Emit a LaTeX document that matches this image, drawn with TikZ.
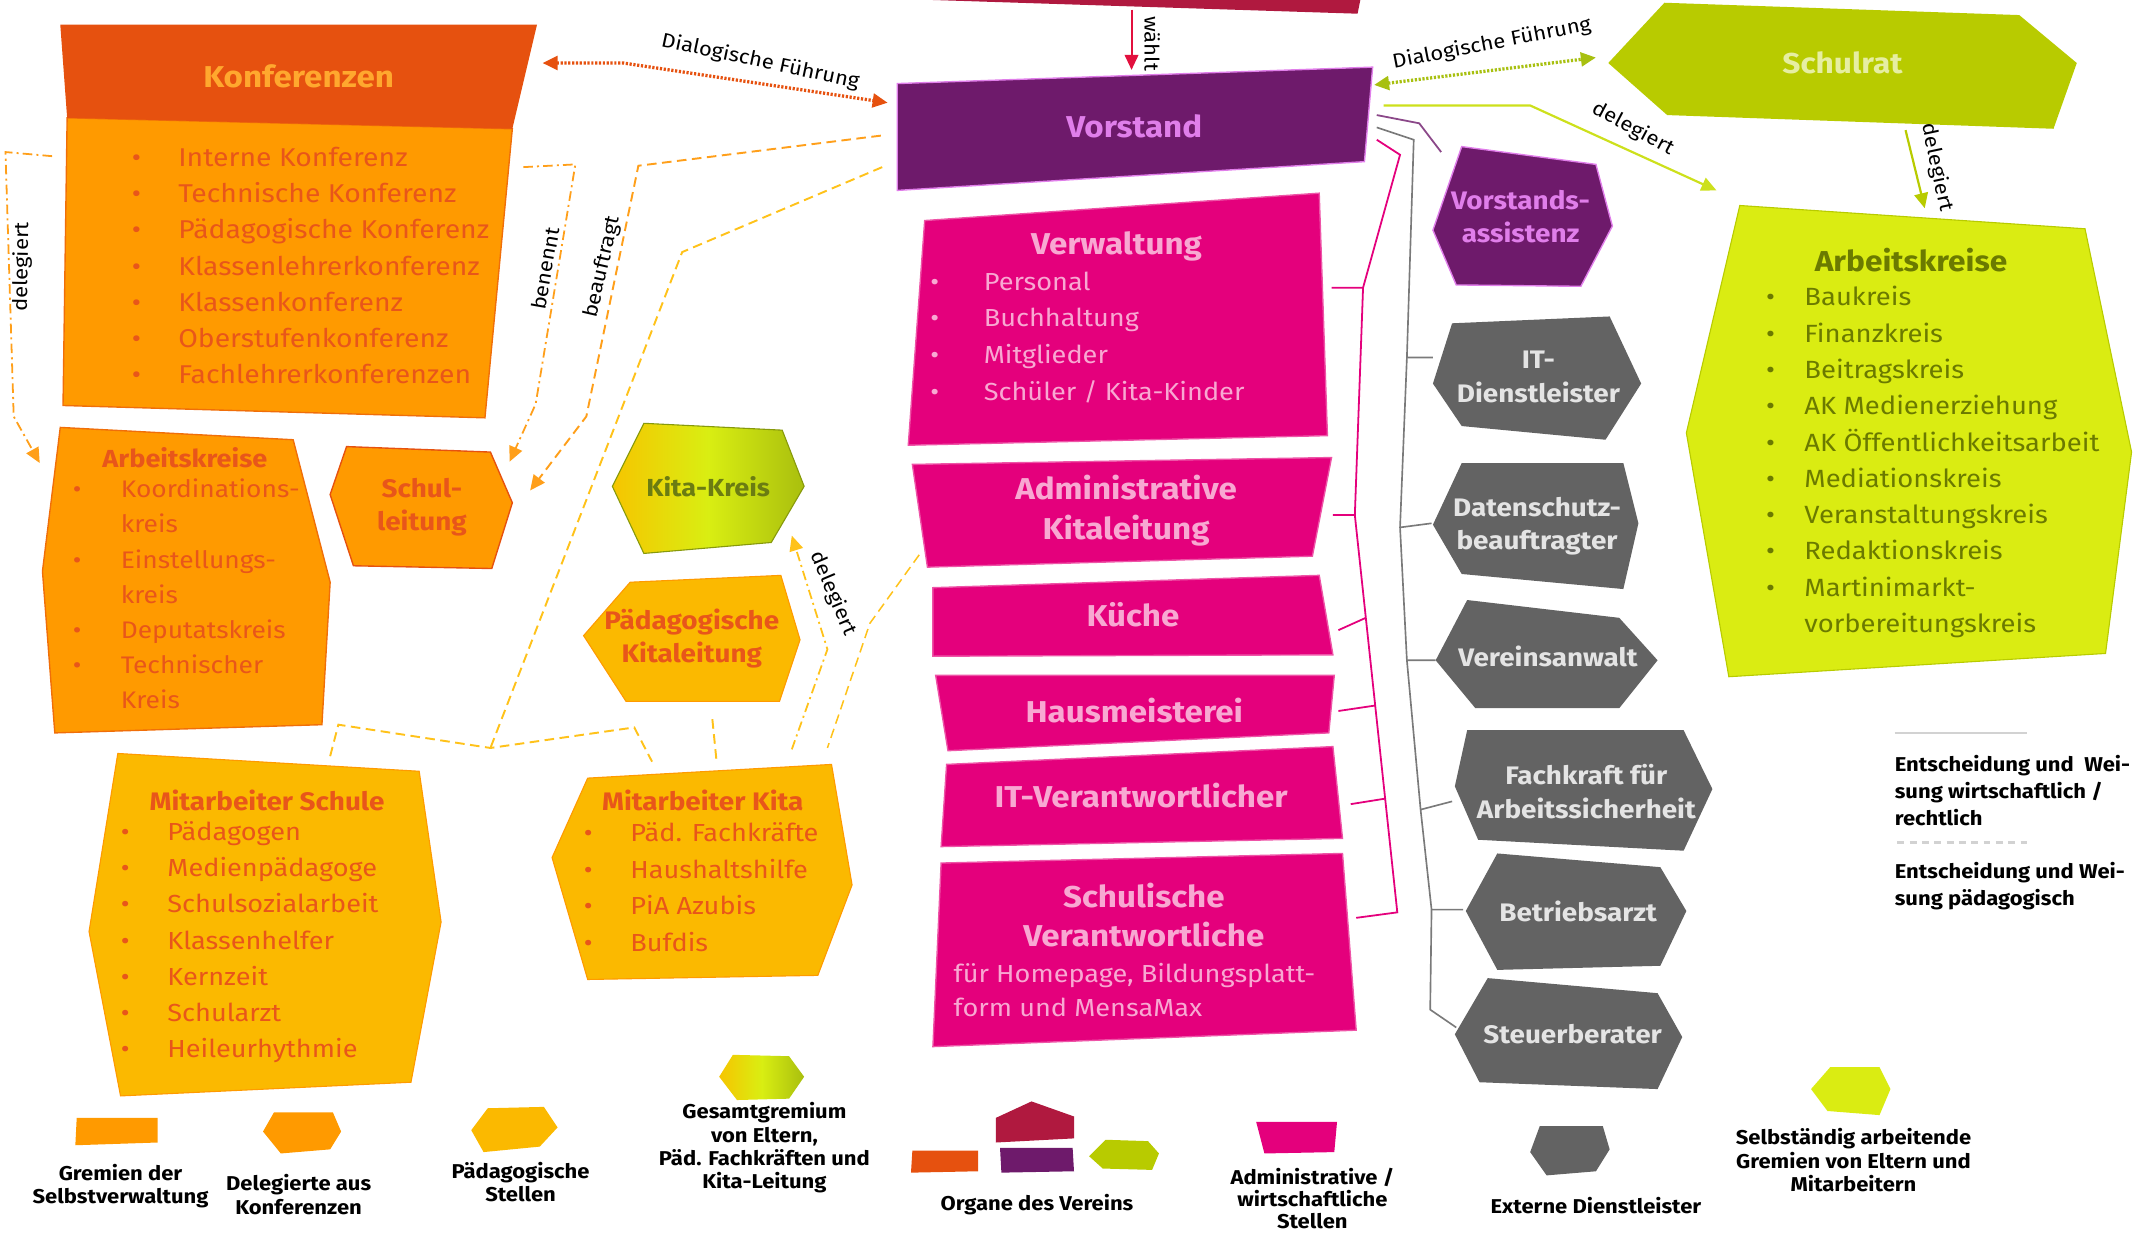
\documentclass[tikz,border=0pt]{standalone}
\usepackage{fontspec}
\setmainfont[FakeStretch=1.1]{Fira Sans}
\usetikzlibrary{arrows.meta}

\definecolor{orgA}{HTML}{FF9A00}
\definecolor{orgH}{HTML}{E6510F}
\definecolor{orgT}{HTML}{E8561A}
\definecolor{orgL}{HTML}{FFA82E}
\definecolor{ylwA}{HTML}{FBB900}
\definecolor{mag}{HTML}{E4007C}
\definecolor{magT}{HTML}{F8A8D2}
\definecolor{pur}{HTML}{6E1A6B}
\definecolor{purT}{HTML}{E07EEA}
\definecolor{gry}{HTML}{636363}
\definecolor{gryT}{HTML}{E4E4E4}
\definecolor{gryL}{HTML}{7A7A7A}
\definecolor{oliv}{HTML}{B8CB00}
\definecolor{olivT}{HTML}{E6EEA2}
\definecolor{lime}{HTML}{DAEC12}
\definecolor{limeT}{HTML}{6B7A00}
\definecolor{crim}{HTML}{B0193F}
\definecolor{redA}{HTML}{E2103E}
\definecolor{dashY}{HTML}{FFC21A}
\definecolor{dashO}{HTML}{FF9F1A}
\definecolor{lnLime}{HTML}{CDE01C}
\definecolor{dotLime}{HTML}{A8C010}
\definecolor{kitaA}{HTML}{F6C500}
\definecolor{kitaB}{HTML}{D9EE12}
\definecolor{kitaC}{HTML}{A9BF0E}
\definecolor{kitaT}{HTML}{6B7C12}
\definecolor{legLn}{HTML}{D2D2D2}

\begin{document}
\begin{tikzpicture}[x=1pt, y=-1pt,
        ttl/.style={font=\fontsize{22}{29}\selectfont\bfseries, align=center, inner sep=0pt},
        hexttl/.style={font=\fontsize{18.5}{24.5}\selectfont\bfseries, align=center, inner sep=0pt},
        item/.style={font=\fontsize{18}{20}\selectfont, anchor=west, inner sep=0pt, text height=12.5pt, text depth=4pt},
        lbl/.style={font=\fontsize{14.6}{16}\selectfont, inner sep=0pt},
        legtxt/.style={font=\fontsize{14.6}{17}\selectfont\bfseries, align=center, inner sep=0pt},
        dashln/.style={dash pattern=on 7pt off 4pt, line width=1.4pt},
        dashdotln/.style={dash pattern=on 7pt off 3pt on 1.5pt off 3pt, line width=1.3pt},
        dotln/.style={dash pattern=on 1.6pt off 1.2pt, line width=2.4pt},
        arrtip/.style={-{Triangle[length=11pt, width=10pt]}},
        bitip/.style={{Triangle[length=11pt, width=10pt]}-{Triangle[length=11pt, width=10pt]}},
    ]
    \useasboundingbox (0,0) rectangle (1568,902);

    % Organe oben
    \fill[crim] (681,0) -- (993,0) -- (991,10) -- cycle;
    \fill[pur, draw=purT, line width=1pt] (655,61) -- (1002,49) -- (996,118) -- (655,139) -- cycle;
    \node[ttl, text=purT] (vorstand) at (828,92) {Vorstand};

    % Konferenzen
    \fill[orgA, draw=orgH!60!orgA, line width=1pt] (49,86) -- (374,94) -- (354,305) -- (46,296) -- cycle;
    \fill[orgH] (44,18) -- (392,18) -- (374,94) -- (49,86) -- cycle;
    \node[ttl, text=orgL] (konf) at (218,56) {Konferenzen};
    \foreach \t [count=\i] in {Interne Konferenz, Technische Konferenz, Pädagogische Konferenz,
        Klassenlehrerkonferenz, Klassenkonferenz, Oberstufenkonferenz, Fachlehrerkonferenzen}
        \node[item, font=\fontsize{18.8}{20}\selectfont, text=orgT] (kf\i) at (96,90.5+26.5*\i) {\makebox[34pt][l]{\textbullet}\t};

    % Arbeitskreise (Schule)
    \fill[orgA, draw=orgH!60!orgA, line width=1pt] (44,312) -- (214,321) -- (241,425) -- (235,529) -- (40,535) -- (31,417) -- cycle;
    \node[font=\fontsize{18}{20}\selectfont\bfseries, text=orgT, inner sep=0pt] (aks) at (135,334) {Arbeitskreise};
    \foreach \t/\b [count=\i] in {Koordinations-/\textbullet, kreis/, Einstellungs-/\textbullet, kreis/,
        Deputatskreis/\textbullet, Technischer/\textbullet, Kreis/}
        \node[item, font=\fontsize{17.5}{20}\selectfont, text=orgT] (ak\i) at (53,333.3+25.7*\i) {\makebox[35pt][l]{\b}\t};

    \fill[orgA, draw=orgH, line width=1pt] (253,326) -- (358,330) -- (374,367) -- (359,415) -- (258,413) -- (241,361) -- cycle;
    \node[font=\fontsize{18.5}{24}\selectfont\bfseries, align=center, text=orgT, inner sep=0pt] (schulltg) at (308,370) {Schul-\\leitung};

    % Kita
    \shade[left color=kitaA, right color=kitaC, middle color=kitaB, draw=kitaC!80!black, line width=0.8pt]
        (470,309) -- (571,314) -- (587,355) -- (563,396) -- (470,404) -- (447,355) -- cycle;
    \node[font=\fontsize{18}{20}\selectfont\bfseries, text=kitaT, inner sep=0pt] (kitakreis) at (517,355) {Kita-Kreis};
    \fill[ylwA, draw=orgA, line width=0.8pt] (460,425) -- (570,420) -- (584,467) -- (569,512) -- (457,512) -- (426,464) -- cycle;
    \node[hexttl, text=orgT] (paedkita) at (505,466) {Pädagogische\\Kitaleitung};

    % Mitarbeiter
    \fill[ylwA, draw=orgA, line width=0.8pt] (86,550) -- (306,563) -- (322,673) -- (300,790) -- (88,800) -- (65,680) -- cycle;
    \node[font=\fontsize{18.5}{20}\selectfont\bfseries, text=orgT, inner sep=0pt] (mas) at (195,584) {Mitarbeiter Schule};
    \foreach \t [count=\i] in {Pädagogen, Medienpädagoge, Schulsozialarbeit, Klassenhelfer, Kernzeit, Schularzt, Heileurhythmie}
        \node[item, text=orgT] (mas\i) at (88,582.5+26.5*\i) {\makebox[34pt][l]{\textbullet}\t};
    \fill[ylwA, draw=orgA, line width=0.8pt] (429,568) -- (607,558) -- (622,646) -- (597,712) -- (429,715) -- (403,626) -- cycle;
    \node[font=\fontsize{18.5}{20}\selectfont\bfseries, text=orgT, inner sep=0pt] (mak) at (513,584) {Mitarbeiter Kita};
    \foreach \t [count=\i] in {Päd. Fachkräfte, Haushaltshilfe, PiA Azubis, Bufdis}
        \node[item, text=orgT] (mak\i) at (426,583.3+26.7*\i) {\makebox[34pt][l]{\textbullet}\t};

    % Verwaltung und Stellen
    \fill[mag, draw=magT!50!mag, line width=1pt] (675,161) -- (963,141) -- (969,318) -- (663,325) -- cycle;
    \node[ttl, text=magT] (verw) at (815,180) {Verwaltung};
    \foreach \t [count=\i] in {Personal, Buchhaltung, Mitglieder, Schüler / Kita-Kinder}
        \node[item, text=magT] (verw\i) at (679,181+26.7*\i) {\makebox[39pt][l]{\textbullet}\t};
    \fill[mag, draw=magT!50!mag, line width=1pt] (666,339) -- (972,334) -- (958,406) -- (677,414) -- cycle;
    \node[ttl, text=magT] (admkita) at (822,373) {Administrative\\Kitaleitung};
    \fill[mag, draw=magT!50!mag, line width=1pt] (681,429) -- (963,420) -- (973,478) -- (681,479) -- cycle;
    \node[ttl, text=magT] (kueche) at (827,449) {Küche};
    \fill[mag, draw=magT!50!mag, line width=1pt] (683,493) -- (974,493) -- (970,535) -- (692,548) -- cycle;
    \node[ttl, text=magT] (hausm) at (828,519) {Hausmeisterei};
    \fill[mag, draw=magT!50!mag, line width=1pt] (691,558) -- (973,545) -- (980,612) -- (687,618) -- cycle;
    \node[ttl, text=magT] (itv) at (833,581) {IT-Verantwortlicher};
    \fill[mag, draw=magT!50!mag, line width=1pt] (687,630) -- (980,623) -- (990,752) -- (681,764) -- cycle;
    \node[ttl, text=magT] (schulv) at (835,668) {Schulische\\Verantwortliche};
    \node[font=\fontsize{18}{25}\selectfont, align=left, anchor=west, text=magT, inner sep=0pt] (schulvtxt) at (696,722.5)
        {für Homepage, Bildungsplatt-\\form und MensaMax};

    % Stabsstelle und Externe
    \fill[pur, draw=purT, line width=1pt] (1067,107) -- (1165,120) -- (1177,165) -- (1154,209) -- (1063,208) -- (1046,168) -- cycle;
    \node[hexttl, text=purT] (vassist) at (1110,158) {Vorstands-\\assistenz};
    \fill[gry] (1060,236) -- (1175,231) -- (1198,280) -- (1172,321) -- (1067,311) -- (1046,280) -- cycle;
    \node[hexttl, text=gryT] (itdl) at (1123,275) {IT-\\Dienstleister};
    \fill[gry] (1067,338) -- (1185,338) -- (1196,382) -- (1185,430) -- (1067,419) -- (1046,383) -- cycle;
    \node[hexttl, text=gryT] (dsb) at (1122,384) {Datenschutz-\\beauftragter};
    \fill[gry] (1071,438) -- (1182,451) -- (1210,482) -- (1182,517) -- (1077,517) -- (1048,482) -- cycle;
    \node[hexttl, text=gryT] (anwalt) at (1130,479) {Vereinsanwalt};
    \fill[gry] (1071,533) -- (1229,533) -- (1250,576) -- (1229,621) -- (1079,613) -- (1062,574) -- cycle;
    \node[hexttl, text=gryT] (fasi) at (1158,578) {Fachkraft für\\Arbeitssicherheit};
    \fill[gry] (1093,623) -- (1212,633) -- (1231,665) -- (1212,705) -- (1093,708) -- (1070,665) -- cycle;
    \node[hexttl, text=gryT] (arzt) at (1152,665) {Betriebsarzt};
    \fill[gry] (1086,714) -- (1210,725) -- (1228,757) -- (1210,795) -- (1080,790) -- (1062,755) -- cycle;
    \node[hexttl, text=gryT] (steuer) at (1148,755) {Steuerberater};

    % Schulrat und Arbeitskreise
    \fill[oliv] (1215,2) -- (1474,11) -- (1516,46) -- (1499,94) -- (1217,84) -- (1174,46) -- cycle;
    \node[font=\fontsize{21}{24}\selectfont\bfseries, text=olivT, inner sep=0pt] (schulrat) at (1345,46) {Schulrat};
    \fill[lime, draw=oliv, line width=0.8pt] (1270,150) -- (1522,167) -- (1556,330) -- (1537,477) -- (1262,494) -- (1231,316) -- cycle;
    \node[font=\fontsize{21}{24}\selectfont\bfseries, text=limeT, inner sep=0pt] (akr) at (1395,190) {Arbeitskreise};
    \foreach \t/\b [count=\i] in {Baukreis/\textbullet, Finanzkreis/\textbullet, Beitragskreis/\textbullet,
        AK Medienerziehung/\textbullet, AK Öffentlichkeitsarbeit/\textbullet, Mediationskreis/\textbullet,
        Veranstaltungskreis/\textbullet, Redaktionskreis/\textbullet, Martinimarkt-/\textbullet, vorbereitungskreis/}
        \node[item, font=\fontsize{18.2}{20}\selectfont, text=limeT] (akr\i) at (1289,192.5+26.5*\i) {\makebox[28pt][l]{\b}\t};

    % Verbindungen
    \coordinate (waehltA) at (826,7);
    \coordinate (waehltB) at (826,51);
    \draw[redA, line width=1.4pt, arrtip] (waehltA) -- (waehltB);
    \node[lbl, rotate=-90] (waehltL) at (841,32) {wählt};

    \coordinate (dfL1) at (396,46);
    \coordinate (dfL2) at (455,46);
    \coordinate (dfL3) at (648,75);
    \draw[orgH, dotln, bitip] (dfL1) -- (dfL2) -- (dfL3);
    \node[lbl, rotate=-12] (dfLL) at (555,45) {Dialogische Führung};

    \coordinate (dfR1) at (1003,62);
    \coordinate (dfR2) at (1165,42);
    \draw[dotLime, dotln, bitip] (dfR1) -- (dfR2);
    \node[lbl, rotate=11] (dfRL) at (1089,32) {Dialogische Führung};

    \coordinate (delR1) at (1010,77);
    \coordinate (delR2) at (1117,77);
    \coordinate (delR3) at (1253,139);
    \draw[lnLime, line width=1.6pt, arrtip] (delR1) -- (delR2) -- (delR3);
    \node[lbl, rotate=-28] (delRL) at (1192,94) {delegiert};
    \coordinate (delS1) at (1391,95);
    \coordinate (delS2) at (1405,152);
    \draw[oliv, line width=1.6pt, arrtip] (delS1) -- (delS2);
    \node[lbl, rotate=-78] (delSL) at (1414,122) {delegiert};

    \coordinate (delK1) at (38,114);
    \coordinate (delK2) at (4,111);
    \coordinate (delK3) at (10,304);
    \coordinate (delK4) at (29,338);
    \draw[dashO, dashdotln, arrtip] (delK1) -- (delK2) -- (delK3) -- (delK4);
    \node[lbl, rotate=89] (delKL) at (16,195) {delegiert};

    \coordinate (ben1) at (382,122);
    \coordinate (ben2) at (420,120);
    \coordinate (ben3) at (391,295);
    \coordinate (ben4) at (372,337);
    \draw[dashO, dashdotln, arrtip] (ben1) -- (ben2) -- (ben3) -- (ben4);
    \node[lbl, rotate=80] (benL) at (398,196) {benennt};

    \coordinate (bea1) at (643,99);
    \coordinate (bea2) at (466,121);
    \coordinate (bea3) at (428,304);
    \coordinate (bea4) at (387,358);
    \draw[dashO, dashln, arrtip] (bea1) -- (bea2) -- (bea3) -- (bea4);
    \node[lbl, rotate=77] (beaL) at (440,195) {beauftragt};

    \coordinate (fk0) at (644,122);
    \coordinate (fk1) at (498,184);
    \coordinate (fkJ) at (358,546);
    \coordinate (fkL1) at (247,529);
    \coordinate (fkL2) at (241,552);
    \coordinate (fkR1) at (463,531);
    \coordinate (fkR2) at (476,556);
    \draw[dashY, dashln] (fk0) -- (fk1) -- (fkJ);
    \draw[dashY, dashln] (fkL2) -- (fkL1) -- (fkJ) -- (fkR1) -- (fkR2);

    \coordinate (ak1) at (671,405);
    \coordinate (ak2) at (635,455);
    \coordinate (ak3) at (604,546);
    \draw[dashY, dashln, line width=1.1pt] (ak1) -- (ak2) -- (ak3);
    \coordinate (pk1) at (520,525);
    \coordinate (pk2) at (523,555);
    \draw[dashY, dashln] (pk1) -- (pk2);

    \coordinate (kk1) at (578,547);
    \coordinate (kk2) at (604,474);
    \coordinate (kk3) at (578,391);
    \draw[dashY, dashdotln, arrtip] (kk1) -- (kk2) -- (kk3);
    \node[lbl, rotate=-67] (kkL) at (608,433) {delegiert};

    % Zuordnung Vorstand
    \draw[pur!80, line width=1.3pt] (1005,84) -- (1036,90) -- (1052,111);
    \draw[gryL, line width=1.2pt] (1005,93) -- (1032,102) coordinate (g0) -- (1027,261) coordinate (g1)
        -- (1022,385) coordinate (g2) -- (1027,482) coordinate (g3) -- (1037,591) coordinate (g4)
        -- (1045,664) coordinate (g5) -- (1044,737) -- (1063,750);
    \draw[gryL, line width=1.2pt] (g1) -- (1046,261) (g2) -- (1045,382) (g3) -- (1048,482)
        (g4) -- (1060,585) (g5) -- (1068,664);
    \draw[mag, line width=1.3pt] (1005,102) -- (1022,113) -- (995,210) coordinate (m1) -- (989,376) coordinate (m2)
        -- (1020,666) -- (990,670);
    \coordinate (m3) at (997,451);
    \coordinate (m4) at (1004,515);
    \coordinate (m5) at (1011,583);
    \draw[mag, line width=1.3pt] (m1) -- (972,210) (m2) -- (973,376) (m3) -- (977,460) (m4) -- (977,519) (m5) -- (986,587);

    % Legende rechts
    \coordinate (lgA1) at (1383,535);
    \coordinate (lgA2) at (1480,535);
    \draw[legLn, line width=2pt] (lgA1) -- (lgA2);
    \node[font=\fontsize{14.6}{19.5}\selectfont\bfseries, align=left, anchor=west, inner sep=0pt] (lgAtxt) at (1383,577)
        {Entscheidung und\ \ Wei-\\sung wirtschaftlich /\\rechtlich};
    \coordinate (lgB1) at (1385,615);
    \coordinate (lgB2) at (1482,615);
    \draw[legLn, line width=2pt, dash pattern=on 5pt off 4pt] (lgB1) -- (lgB2);
    \node[font=\fontsize{14.6}{19.5}\selectfont\bfseries, align=left, anchor=west, inner sep=0pt] (lgBtxt) at (1383,647)
        {Entscheidung und Wei-\\sung pädagogisch};

    % Legende unten
    \fill[orgA] (56,816) -- (115,816) -- (115,834) -- (55,836) -- cycle;
    \node[legtxt] (lg1) at (88,866) {Gremien der\\Selbstverwaltung};
    \fill[orgA] (200,812) -- (243,812) -- (249,826) -- (241,839) -- (205,842) -- (192,826) -- cycle;
    \node[legtxt] (lg2) at (218,872) {Delegierte aus\\Konferenzen};
    \fill[ylwA] (356,809) -- (397,808) -- (407,823) -- (394,837) -- (353,841) -- (344,825) -- cycle;
    \node[legtxt] (lg3) at (380,863) {Pädagogische\\Stellen};
    \shade[left color=kitaA, right color=kitaC, middle color=kitaB]
        (535,770) -- (576,771) -- (587,786) -- (576,802) -- (538,803) -- (525,786) -- cycle;
    \node[legtxt] (lg4) at (558,838) {Gesamtgremium\\von Eltern,\\Päd. Fachkräften und\\Kita-Leitung};
    \fill[crim] (727,816) -- (753,804) -- (784,815) -- (784,831) -- (727,834) -- cycle;
    \fill[orgH] (666,840) -- (714,840) -- (714,855) -- (665,856) -- cycle;
    \fill[pur] (730,838) -- (783,838) -- (784,855) -- (731,856) -- cycle;
    \fill[oliv] (807,832) -- (838,833) -- (846,842) -- (841,854) -- (805,853) -- (795,844) -- cycle;
    \node[legtxt] (lg5) at (757,879) {Organe des Vereins};
    \fill[mag] (917,819) -- (976,819) -- (974,841) -- (923,842) -- cycle;
    \node[legtxt, font=\fontsize{14.6}{16.2}\selectfont\bfseries] (lg6) at (958,875) {Administrative /\\wirtschaftliche\\Stellen};
    \fill[gry] (1124,822) -- (1170,822) -- (1175,839) -- (1165,855) -- (1129,858) -- (1117,841) -- cycle;
    \node[legtxt] (lg7) at (1165,880) {Externe Dienstleister};
    \fill[lime] (1336,779) -- (1372,779) -- (1380,795) -- (1372,814) -- (1334,811) -- (1322,795) -- cycle;
    \node[legtxt] (lg8) at (1353,847) {Selbständig arbeitende\\Gremien von Eltern und\\Mitarbeitern};
\end{tikzpicture}
\end{document}
